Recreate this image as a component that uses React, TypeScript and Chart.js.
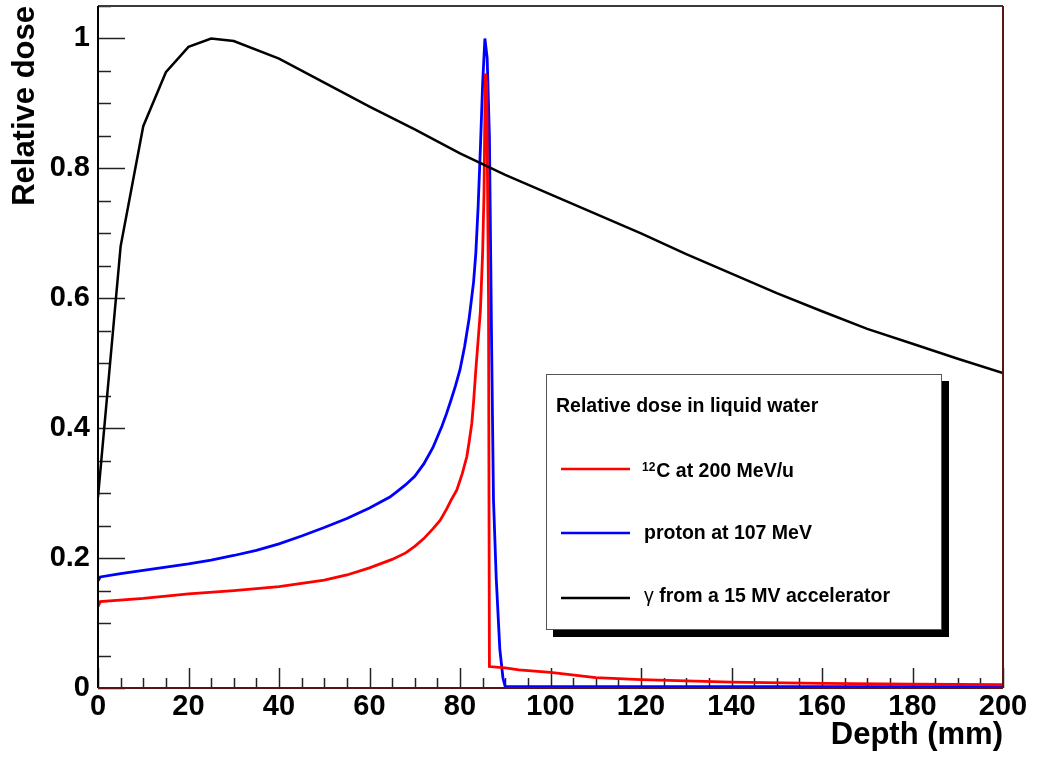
import React, { useEffect, useRef } from 'react';
import { Chart, registerables } from 'chart.js';

Chart.register(...registerables);

// ---- Data ----
const gammaDepth = [0, 5, 10, 15, 20, 25, 30, 40, 50, 60, 70, 80, 90, 100, 110, 120, 130, 140, 150, 160, 170, 180, 190, 200];
const gammaDose = [0.294, 0.68, 0.865, 0.948, 0.987, 1.0, 0.996, 0.969, 0.932, 0.895, 0.86, 0.823, 0.79, 0.76, 0.73, 0.70, 0.668, 0.638, 0.608, 0.58, 0.553, 0.53, 0.507, 0.485];

const carbonDepth = [0, 0.5, 10, 20, 30, 40, 50, 55, 60, 65, 68, 70, 72, 74, 75.6, 77, 78, 79.3, 80.5, 81.5, 82, 82.6, 83, 83.5, 84, 84.5, 85, 85.3, 85.6, 85.9, 86.3, 86.5, 90, 93, 100, 110, 120, 130, 140, 160, 180, 200];
const carbonDose = [0.125, 0.133, 0.138, 0.145, 0.150, 0.156, 0.166, 0.174, 0.185, 0.198, 0.208, 0.218, 0.23, 0.245, 0.258, 0.275, 0.289, 0.305, 0.33, 0.356, 0.378, 0.407, 0.44, 0.49, 0.535, 0.58, 0.67, 0.76, 0.946, 0.93, 0.6, 0.033, 0.031, 0.028, 0.024, 0.016, 0.013, 0.011, 0.009, 0.007, 0.006, 0.005];

const protonDepth = [0, 0.5, 5, 10, 15, 20, 25, 30, 35, 40, 45, 50, 55, 60, 64.5, 66, 68, 70, 72, 74, 76, 77, 78, 79, 80, 81, 82, 83, 83.5, 84, 84.5, 85, 85.5, 86, 86.5, 87, 87.4, 88, 88.8, 89.5, 90, 100, 150, 200];
const protonDose = [0.165, 0.171, 0.176, 0.181, 0.186, 0.191, 0.197, 0.204, 0.212, 0.222, 0.234, 0.247, 0.261, 0.277, 0.294, 0.302, 0.313, 0.326, 0.345, 0.37, 0.403, 0.422, 0.443, 0.465, 0.49, 0.525, 0.568, 0.625, 0.67, 0.74, 0.83, 0.93, 1.0, 0.97, 0.85, 0.52, 0.29, 0.17, 0.06, 0.015, 0.002, 0.002, 0.002, 0.002];

const yTickValues = [0, 0.2, 0.4, 0.6, 0.8, 1];
const xTickStep = 20;

const legendTitle = 'Relative dose in liquid water';
const legendColors = ['#ff0000', '#0000ff', '#000000'];

const FONT = '"Liberation Sans", Arial, Helvetica, sans-serif';

const toPoints = (xs: number[], ys: number[]) => xs.map((x, i) => ({ x, y: ys[i] }));

const rootFramePlugin = {
  id: 'rootFrame',
  beforeDatasetsDraw(chart: any) {
    const { ctx, chartArea: a, scales } = chart;
    const xs = scales.x;
    const ys = scales.y;
    ctx.save();
    ctx.strokeStyle = '#222';
    ctx.lineWidth = 1.5;
    // x ticks (inward), major every 20, minor every 5
    for (let v = 0; v <= 200; v += 5) {
      const px = Math.round(xs.getPixelForValue(v)) + 0.5;
      const len = v % 20 === 0 ? 20 : 10;
      ctx.beginPath();
      ctx.moveTo(px, a.bottom);
      ctx.lineTo(px, a.bottom - len);
      ctx.stroke();
    }
    // y ticks (inward), major every 0.2, minor every 0.05
    for (let i = 0; i <= 21; i++) {
      const v = i * 0.05;
      const py = Math.round(ys.getPixelForValue(v)) + 0.5;
      const len = i % 4 === 0 ? 27 : 13;
      ctx.beginPath();
      ctx.moveTo(a.left, py);
      ctx.lineTo(a.left + len, py);
      ctx.stroke();
    }
    ctx.restore();
  },
  afterDatasetsDraw(chart: any) {
    const { ctx, chartArea: a } = chart;
    ctx.save();
    ctx.lineWidth = 2;
    ctx.strokeStyle = '#3a3a3a';
    ctx.beginPath(); ctx.moveTo(a.left, a.top); ctx.lineTo(a.right, a.top); ctx.stroke();
    ctx.strokeStyle = '#000';
    ctx.beginPath(); ctx.moveTo(a.left, a.top); ctx.lineTo(a.left, a.bottom); ctx.stroke();
    ctx.strokeStyle = '#5a1414';
    ctx.beginPath(); ctx.moveTo(a.right, a.top); ctx.lineTo(a.right, a.bottom); ctx.stroke();
    ctx.beginPath(); ctx.moveTo(a.left, a.bottom); ctx.lineTo(a.right, a.bottom); ctx.stroke();
    ctx.restore();
  },
  afterDraw(chart: any) {
    const { ctx } = chart;
    ctx.save();
    ctx.fillStyle = '#000';
    ctx.fillRect(553, 381, 396, 256);
    ctx.fillStyle = '#fff';
    ctx.fillRect(546, 374, 396, 256);
    ctx.strokeStyle = '#555';
    ctx.lineWidth = 1;
    ctx.strokeRect(546.5, 374.5, 395, 255);

    ctx.fillStyle = '#000';
    ctx.textBaseline = 'alphabetic';
    ctx.textAlign = 'left';
    ctx.font = `bold 19.5px ${FONT}`;
    ctx.fillText(legendTitle, 556, 412);

    const lineYs = [469, 533, 598];
    lineYs.forEach((ly, i) => {
      ctx.strokeStyle = legendColors[i];
      ctx.lineWidth = 2.5;
      ctx.beginPath();
      ctx.moveTo(561, ly);
      ctx.lineTo(630, ly);
      ctx.stroke();
    });

    ctx.fillStyle = '#000';
    ctx.font = `bold 12px ${FONT}`;
    ctx.fillText('12', 642, 471);
    const w12 = ctx.measureText('12').width;
    ctx.font = `bold 19.5px ${FONT}`;
    ctx.fillText('C at 200 MeV/u', 642 + w12 + 1, 477);

    ctx.fillText('proton at 107 MeV', 644, 539);

    ctx.font = `19.5px ${FONT}`;
    ctx.fillText('γ', 644, 602);
    const wg = ctx.measureText('γ').width;
    ctx.font = `bold 19.5px ${FONT}`;
    ctx.fillText(' from a 15 MV accelerator', 644 + wg, 602);
    ctx.restore();
  },
};

export default function App() {
  const ref = useRef<HTMLCanvasElement>(null);

  useEffect(() => {
    const canvas = ref.current;
    if (!canvas) return;
    const chart = new Chart(canvas, {
      type: 'line',
      data: {
        datasets: [
          {
            label: 'γ from a 15 MV accelerator',
            data: toPoints(gammaDepth, gammaDose),
            borderColor: '#000000',
            borderWidth: 2.5,
          },
          {
            label: '12C at 200 MeV/u',
            data: toPoints(carbonDepth, carbonDose),
            borderColor: '#ff0000',
            borderWidth: 2.8,
          },
          {
            label: 'proton at 107 MeV',
            data: toPoints(protonDepth, protonDose),
            borderColor: '#0000ff',
            borderWidth: 2.8,
          },
        ],
      },
      options: {
        responsive: false,
        animation: false,
        events: [],
        layout: { padding: { left: 0, top: 6, right: 40, bottom: 0 } },
        elements: {
          point: { radius: 0 },
          line: { tension: 0, fill: false },
        },
        plugins: {
          legend: { display: false },
          tooltip: { enabled: false },
          title: { display: false },
        },
        scales: {
          x: {
            type: 'linear',
            position: 'bottom',
            min: 0,
            max: 200,
            grid: { display: false, drawTicks: false },
            border: { display: false },
            ticks: {
              stepSize: xTickStep,
              color: '#000',
              padding: 2,
              maxRotation: 0,
              autoSkip: false,
              font: { family: FONT, size: 29, weight: 'bold' },
            },
            title: {
              display: true,
              text: 'Depth (mm)',
              align: 'end',
              color: '#000',
              padding: { top: 0, bottom: 4 },
              font: { family: FONT, size: 31, weight: 'bold' },
            },
            afterFit(s: any) {
              s.height = 70;
              s.paddingLeft = 0;
              s.paddingRight = 0;
            },
          },
          y: {
            type: 'linear',
            position: 'left',
            min: 0,
            max: 1.05,
            grid: { display: false, drawTicks: false },
            border: { display: false },
            afterBuildTicks(s: any) {
              s.ticks = yTickValues.map((v) => ({ value: v }));
            },
            ticks: {
              color: '#000',
              padding: 8,
              font: { family: FONT, size: 29, weight: 'bold' },
              callback: (v: any) => {
                const n = Number(v);
                if (n === 0) return '0';
                if (n === 1) return '1';
                return n.toFixed(1);
              },
            },
            title: {
              display: true,
              text: 'Relative dose',
              align: 'end',
              color: '#000',
              padding: { top: 7, bottom: 0 },
              font: { family: FONT, size: 31, weight: 'bold' },
            },
            afterFit(s: any) {
              s.width = 98;
              s.paddingTop = 0;
              s.paddingBottom = 0;
            },
          },
        },
      },
      plugins: [rootFramePlugin],
    } as any);
    return () => chart.destroy();
  }, []);

  return (
    <div style={{ position: 'absolute', left: 0, top: 0, width: 1043, height: 758, background: '#fff' }}>
      <canvas ref={ref} width={1043} height={758} style={{ display: 'block' }} />
    </div>
  );
}
